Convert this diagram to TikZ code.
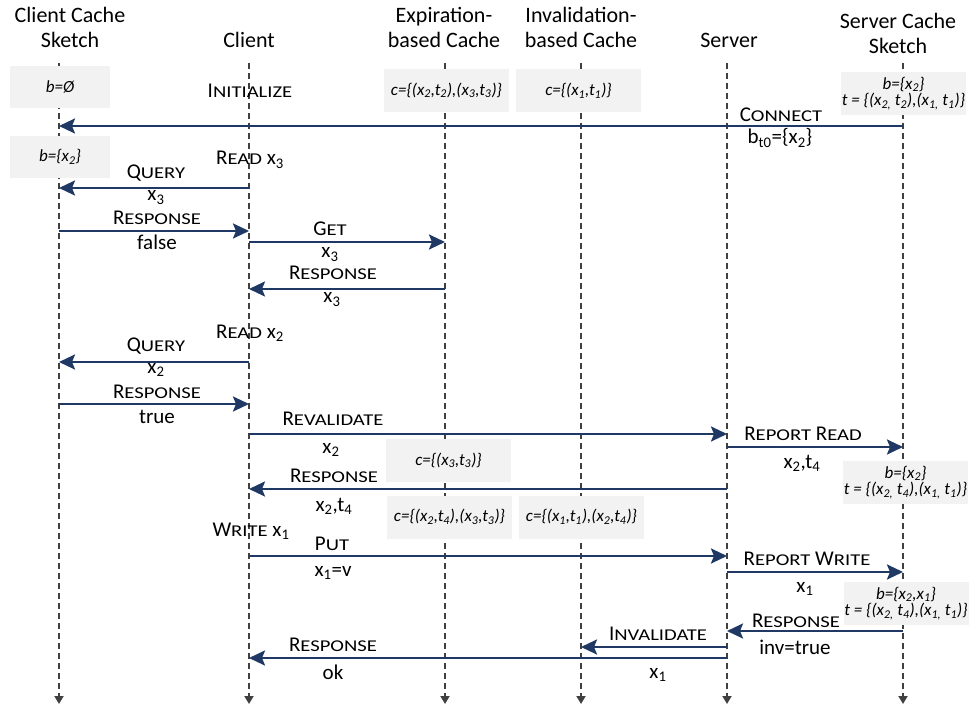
\documentclass[tikz,border=0pt]{standalone}
\usepackage{fontspec}
\setmainfont{Carlito}
\usetikzlibrary{arrows.meta}
\definecolor{navy}{HTML}{1F3864}
\definecolor{boxgray}{HTML}{F2F2F2}
\definecolor{lifegray}{HTML}{404040}
\newcommand\smc[1]{{\fontsize{16.5}{16}\selectfont\addfontfeature{FakeStretch=1.25}#1}}
\begin{document}
\begin{tikzpicture}[x=1pt,y=-1pt,every node/.style={font=\fontsize{21}{25}\selectfont,inner sep=0pt},
	lbl/.style={anchor=base},
	head/.style={align=center,anchor=base,font=\fontsize{22}{25}\selectfont},
	state/.style={fill=boxgray,minimum width=125pt,minimum height=43pt,align=center,font=\itshape\fontsize{17}{16.5}\selectfont},
	msg/.style={navy,line width=2.5pt,-{Stealth[length=16pt,width=15pt,inset=3pt]}},
	life/.style={lifegray,line width=1.8pt,dash pattern=on 6pt off 4pt,-{Triangle[length=8pt,width=9pt]}}]
	\useasboundingbox(0,0)rectangle(971,708);
	\coordinate(CCS)at(59,63);
	\coordinate(C)at(249,63);
	\coordinate(EC)at(445,63);
	\coordinate(IC)at(581,63);
	\coordinate(S)at(727,63);
	\coordinate(SCS)at(903,63);
	\coordinate(end)at(0,704);
	%headers
	\node[head](hCCS)at(70,48){Client Cache\\Sketch};
	\node[head](hC)at(249,48){Client};
	\node[head](hEC)at(444,48){Expiration-\\based Cache};
	\node[head](hIC)at(581,48){Invalidation-\\based Cache};
	\node[head](hS)at(729,48){Server};
	\node[head](hSCS)at(898,54){Server Cache\\Sketch};
	\foreach\p in{CCS,C,EC,IC,S,SCS}{\draw[life](\p)--(\p|-end);}
	%states
	\node[state,minimum width=100pt,minimum height=42pt](bCCSa)at(60,87){b=Ø};
	\node[state,minimum width=100pt,minimum height=42pt](bCCSb)at(60,157){b=\{x\textsubscript{2}\}};
	\node[state](cECa)at(446.5,90.5){c=\{(x\textsubscript{2},t\textsubscript{2}),(x\textsubscript{3},t\textsubscript{3})\}};
	\node[state](cICa)at(578.5,90.5){c=\{(x\textsubscript{1},t\textsubscript{1})\}};
	\node[state](tSCSa)at(903.5,93.5){b=\{x\textsubscript{2}\}\\t = \{(x\textsubscript{2,} t\textsubscript{2}),(x\textsubscript{1,} t\textsubscript{1})\}};
	\node[state](cECb)at(448.5,460.5){c=\{(x\textsubscript{3},t\textsubscript{3})\}};
	\node[state](cECc)at(449.5,517){c=\{(x\textsubscript{2},t\textsubscript{4}),(x\textsubscript{3},t\textsubscript{3})\}};
	\node[state](cICb)at(581.5,517){c=\{(x\textsubscript{1},t\textsubscript{1}),(x\textsubscript{2},t\textsubscript{4})\}};
	\node[state](tSCSb)at(905.5,482.5){b=\{x\textsubscript{2}\}\\t = \{(x\textsubscript{2,} t\textsubscript{4}),(x\textsubscript{1,} t\textsubscript{1})\}};
	\node[state](tSCSc)at(906,603.5){b=\{x\textsubscript{2},x\textsubscript{1}\}\\t = \{(x\textsubscript{2,} t\textsubscript{4}),(x\textsubscript{1,} t\textsubscript{1})\}};
	%messages
	\foreach\n/\y in{1/126,2/188,3/231,4/242,5/289,6/362,7/404,8/434,9/447,10/489,11/556,12/572,13/631,14/647,15/658}{\coordinate(m\n)at(0,\y);}
	\foreach\a/\b/\n in{SCS/CCS/1,C/CCS/2,CCS/C/3,C/EC/4,EC/C/5,C/CCS/6,CCS/C/7,C/S/8,S/SCS/9,S/C/10,C/S/11,S/SCS/12,SCS/S/13,S/IC/14,S/C/15}{\draw[msg](\a|-m\n)--(\b|-m\n);}
	%labels
	\node[lbl](init)at(250,98){I\smc{NITIALIZE}};
	\node[lbl](connect)at(781,122){C\smc{ONNECT}};
	\node[lbl](bt)at(780,144){b\textsubscript{t0}=\{x\textsubscript{2}\}};
	\node[lbl](readA)at(250,165){R\smc{EAD} x\textsubscript{3}};
	\node[lbl](queryA)at(156,179){Q\smc{UERY}};
	\node[lbl](qxA)at(156,201){x\textsubscript{3}};
	\node[lbl](respA)at(157,225){R\smc{ESPONSE}};
	\node[lbl](false)at(157,250){false};
	\node[lbl](get)at(330,236){G\smc{ET}};
	\node[lbl](gx)at(330,258){x\textsubscript{3}};
	\node[lbl](respB)at(333,280){R\smc{ESPONSE}};
	\node[lbl](rxB)at(332,303){x\textsubscript{3}};
	\node[lbl](readB)at(250,338){R\smc{EAD} x\textsubscript{2}};
	\node[lbl](queryB)at(156,352){Q\smc{UERY}};
	\node[lbl](qxB)at(156,373){x\textsubscript{2}};
	\node[lbl](respC)at(157,398){R\smc{ESPONSE}};
	\node[lbl](true)at(157,423){true};
	\node[lbl](reval)at(333,425){R\smc{EVALIDATE}};
	\node[lbl](vx)at(331,453){x\textsubscript{2}};
	\node[lbl](repread)at(803,440){R\smc{EPORT} R\smc{EAD}};
	\node[lbl](rrx)at(802,468){x\textsubscript{2},t\textsubscript{4}};
	\node[lbl](respD)at(334,482){R\smc{ESPONSE}};
	\node[lbl](rxD)at(334,511){x\textsubscript{2},t\textsubscript{4}};
	\node[lbl](write)at(251,536){W\smc{RITE} x\textsubscript{1}};
	\node[lbl](put)at(332,550){P\smc{UT}};
	\node[lbl](px)at(333,576){x\textsubscript{1}=v};
	\node[lbl](repwrite)at(807,565){R\smc{EPORT} W\smc{RITE}};
	\node[lbl](rwx)at(805,592){x\textsubscript{1}};
	\node[lbl](respE)at(796,627){R\smc{ESPONSE}};
	\node[lbl](inv)at(795,654){inv=true};
	\node[lbl](inval)at(658,640){I\smc{NVALIDATE}};
	\node[lbl](ix)at(658,678){x\textsubscript{1}};
	\node[lbl](respF)at(333,651){R\smc{ESPONSE}};
	\node[lbl](ok)at(333,679){ok};
\end{tikzpicture}
\end{document}
